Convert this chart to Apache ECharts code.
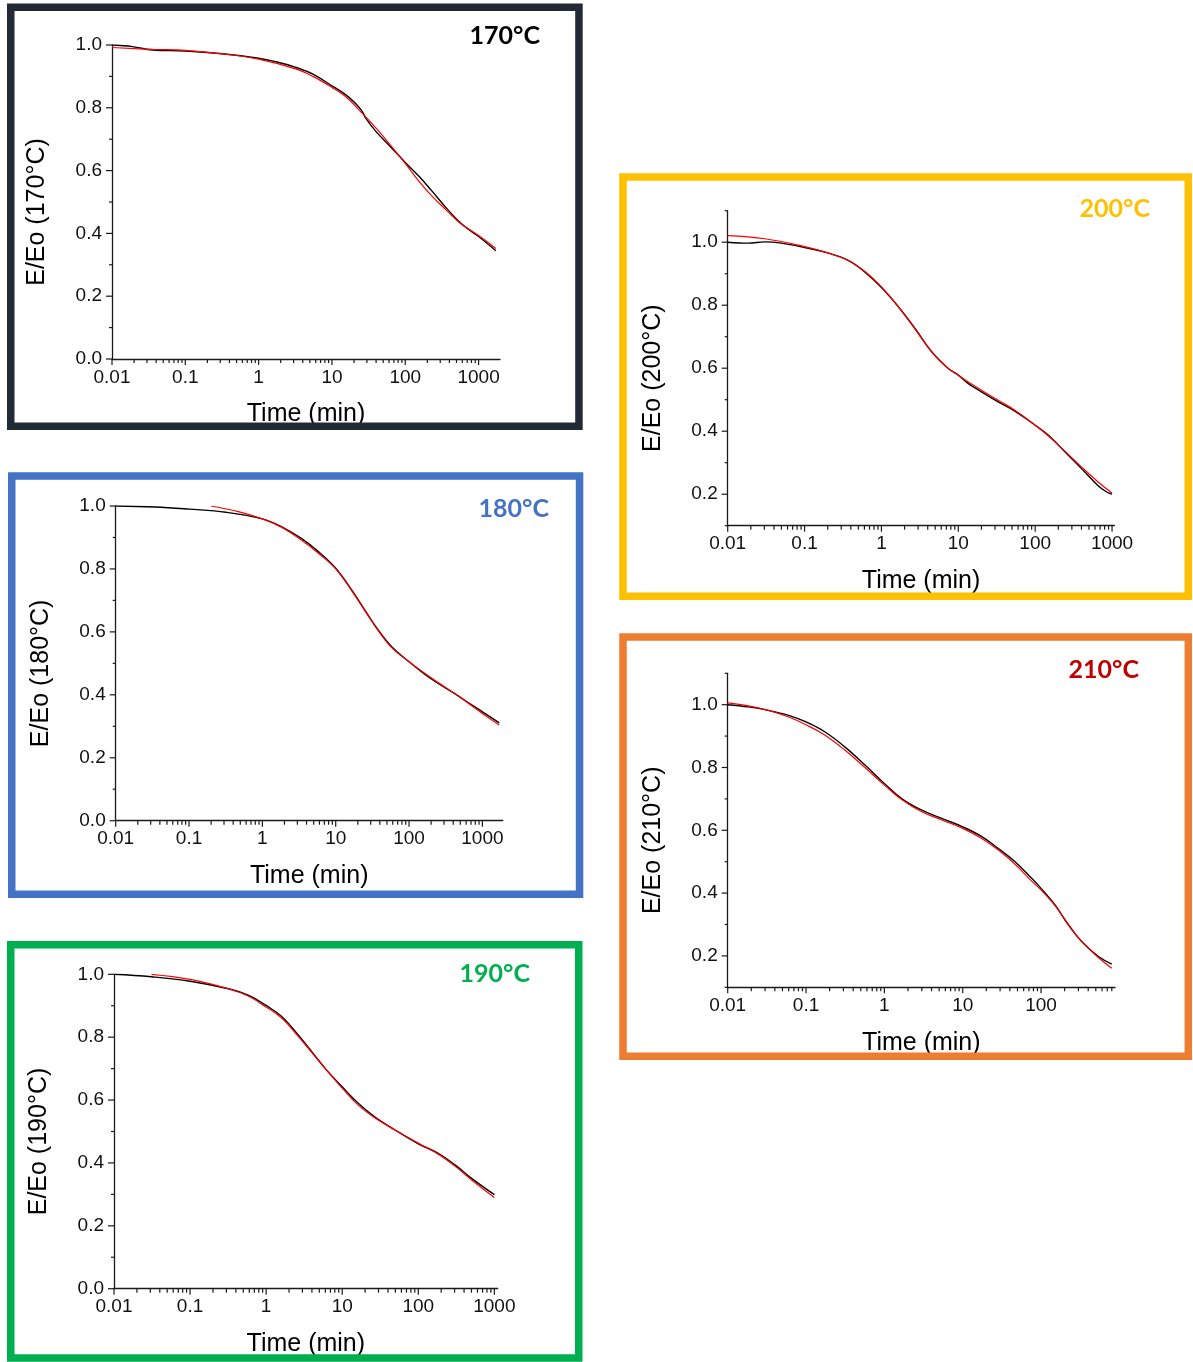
<!DOCTYPE html>
<html><head><meta charset="utf-8">
<script src="https://cdn.jsdelivr.net/npm/echarts@6/dist/echarts.min.js"></script>
<style>html,body{margin:0;padding:0;background:#fff}#c{width:1193px;height:1362px}</style>
</head><body><div id="c"></div>
<script>
// ---------- tick values ----------
const yMajor01 = [0, 0.2, 0.4, 0.6, 0.8, 1.0];
const yMinor01 = [0.1, 0.3, 0.5, 0.7, 0.9];
const yMajorHigh = [0.2, 0.4, 0.6, 0.8, 1.0];
const yMinorHigh = [0.1, 0.3, 0.5, 0.7, 0.9, 1.1];

const panelTitles = ['170°C', '180°C', '190°C', '200°C', '210°C'];
const yNames = ['E/Eo (170°C)', 'E/Eo (180°C)', 'E/Eo (190°C)', 'E/Eo (200°C)', 'E/Eo (210°C)'];
const xName = 'Time (min)';

// ---------- data: 170°C ----------
const t170 = [0.01, 0.019, 0.036, 0.1, 0.32, 1, 1.7, 3.2, 5.5, 10, 15.5, 21, 26, 29, 40, 60, 100, 155, 235, 360, 545, 750, 1000, 1720];
const e170 = [1.0, 0.995, 0.984, 0.981, 0.972, 0.958, 0.947, 0.929, 0.907, 0.870, 0.841, 0.814, 0.788, 0.766, 0.724, 0.681, 0.626, 0.581, 0.533, 0.482, 0.437, 0.411, 0.390, 0.345];
const t170fit = [0.01, 0.036, 0.1, 0.32, 1, 3.2, 5.5, 10, 15.5, 26, 40, 60, 100, 155, 235, 360, 545, 1000, 1720];
const e170fit = [0.992, 0.986, 0.983, 0.972, 0.955, 0.924, 0.900, 0.865, 0.835, 0.782, 0.735, 0.687, 0.623, 0.565, 0.517, 0.475, 0.435, 0.393, 0.352];

// ---------- data: 180°C ----------
const t180 = [0.01, 0.034, 0.1, 0.32, 1, 1.84, 3.4, 5.8, 10, 16.5, 25, 38, 58, 100, 165, 250, 425, 715, 1000, 1700];
const e180 = [1.0, 0.997, 0.990, 0.980, 0.959, 0.934, 0.897, 0.855, 0.802, 0.733, 0.669, 0.606, 0.553, 0.505, 0.465, 0.436, 0.403, 0.368, 0.346, 0.311];
const t180fit = [0.2, 0.47, 1, 1.84, 3.4, 5.8, 10, 16.5, 25, 38, 58, 100, 165, 250, 425, 715, 1000, 1700];
const e180fit = [1.0, 0.982, 0.959, 0.932, 0.892, 0.850, 0.800, 0.731, 0.667, 0.604, 0.550, 0.505, 0.468, 0.439, 0.403, 0.365, 0.341, 0.304];

// ---------- data: 190°C ----------
const t190 = [0.01, 0.031, 0.1, 0.32, 0.59, 1, 1.6, 2.66, 4, 6, 10, 16.4, 27, 50, 100, 185, 307, 508, 1000];
const e190 = [1.0, 0.992, 0.978, 0.954, 0.933, 0.901, 0.866, 0.806, 0.753, 0.700, 0.642, 0.589, 0.546, 0.504, 0.461, 0.430, 0.393, 0.350, 0.299];
const t190fit = [0.031, 0.1, 0.32, 0.59, 1, 1.6, 2.66, 4, 6, 10, 16.4, 27, 50, 100, 185, 307, 508, 1000];
const e190fit = [1.0, 0.984, 0.954, 0.930, 0.896, 0.861, 0.802, 0.751, 0.700, 0.638, 0.583, 0.543, 0.504, 0.463, 0.427, 0.389, 0.345, 0.290];

// ---------- data: 200°C ----------
const t200 = [0.01, 0.0186, 0.0306, 0.05, 0.1, 0.2, 0.37, 0.61, 1, 1.66, 2.74, 4.5, 7.4, 10, 13.5, 20, 33, 55, 100, 149, 245, 403, 664, 850, 1000];
const e200 = [1.0, 0.997, 1.001, 0.997, 0.983, 0.966, 0.942, 0.905, 0.856, 0.795, 0.726, 0.652, 0.599, 0.578, 0.551, 0.525, 0.493, 0.463, 0.419, 0.387, 0.334, 0.281, 0.226, 0.207, 0.200];
const t200fit = [0.01, 0.0306, 0.1, 0.2, 0.37, 0.61, 1, 1.66, 2.74, 4.5, 7.4, 10, 13.5, 20, 33, 55, 100, 149, 245, 403, 664, 1000];
const e200fit = [1.021, 1.011, 0.986, 0.966, 0.942, 0.907, 0.858, 0.795, 0.724, 0.652, 0.599, 0.578, 0.556, 0.530, 0.498, 0.466, 0.419, 0.385, 0.336, 0.286, 0.238, 0.204];

// ---------- data: 210°C ----------
const t210 = [0.01, 0.0184, 0.033, 0.06, 0.1, 0.175, 0.315, 0.57, 1, 1.66, 3, 5.4, 10, 17.5, 28.5, 46.6, 76, 100, 151, 223, 330, 540, 800];
const e210 = [1.0, 0.993, 0.982, 0.966, 0.945, 0.913, 0.865, 0.807, 0.749, 0.701, 0.664, 0.638, 0.611, 0.580, 0.542, 0.500, 0.447, 0.415, 0.362, 0.299, 0.246, 0.198, 0.174];
const t210fit = t210;
const e210fit = [1.006, 0.996, 0.982, 0.961, 0.936, 0.903, 0.855, 0.799, 0.744, 0.698, 0.659, 0.633, 0.606, 0.574, 0.537, 0.492, 0.438, 0.410, 0.360, 0.301, 0.246, 0.195, 0.161];

// ---------- layout ----------
const panels = [
  {grid:{left:112, top:45, width:388, height:314}, xMax:1960, yMin:0, yMax:1, yMaj:yMajor01, yMin_:yMinor01, t:t170, e:e170, tf:t170fit, ef:e170fit,
   border:{x:10.75, y:7.25, w:568.2, h:419, c:'#222A35'}, title:{x:540, y:36, c:'#000000'}},
  {grid:{left:115.7, top:506, width:387, height:314.7}, xMax:1893, yMin:0, yMax:1, yMaj:yMajor01, yMin_:yMinor01, t:t180, e:e180, tf:t180fit, ef:e180fit,
   border:{x:11.75, y:476.05, w:567.8, h:418.2, c:'#4472C4'}, title:{x:549, y:509, c:'#4472C4'}},
  {grid:{left:114, top:974.3, width:383.7, height:314.4}, xMax:1107, yMin:0, yMax:1, yMaj:yMajor01, yMin_:yMinor01, t:t190, e:e190, tf:t190fit, ef:e190fit,
   border:{x:10.75, y:944.75, w:568, h:413.25, c:'#00B050'}, title:{x:530, y:974, c:'#00B050'}},
  {grid:{left:727.7, top:210.7, width:386.7, height:315}, xMax:1073, yMin:0.1, yMax:1.1, yMaj:yMajorHigh, yMin_:yMinorHigh, t:t200, e:e200, tf:t200fit, ef:e200fit,
   border:{x:623, y:177, w:565.3, h:419.3, c:'#FFC000'}, title:{x:1150, y:209, c:'#FFC000'}},
  {grid:{left:727.7, top:673.3, width:387.3, height:314}, xMax:879, yMin:0.1, yMax:1.1, yMaj:yMajorHigh, yMin_:yMinorHigh, t:t210, e:e210, tf:t210fit, ef:e210fit,
   border:{x:623, y:637, w:565.3, h:419.3, c:'#ED7D31'}, title:{x:1139, y:670, c:'#C00000'}}
];

const AX = '#1a1a1a';
const FONT = '"Liberation Sans", Arial, sans-serif';

function zip(a, b) { return a.map((v, i) => [v, b[i]]); }
function xTickData(min, max, yBase) {
  const out = [];
  for (let k = Math.floor(Math.log10(min)); k <= Math.ceil(Math.log10(max)); k++) {
    for (let m = 1; m <= 9; m++) {
      const v = m * Math.pow(10, k);
      if (v >= min * 0.999 && v <= max) out.push([v, yBase, m === 1 ? 0 : 1]);
    }
  }
  return out;
}
function tickRender(params, api) {
  const kind = api.value(2);
  const p = api.coord([api.value(0), api.value(1)]);
  let x2 = p[0], y2 = p[1];
  if (kind === 0) y2 += 6; else if (kind === 1) y2 += 4;
  else if (kind === 2) x2 -= 6; else x2 -= 3;
  return {type: 'line', silent: true, shape: {x1: p[0], y1: p[1], x2: x2, y2: y2},
          style: {stroke: AX, lineWidth: 1.2}};
}
function logLabel(v) {
  const l = Math.log10(v);
  const r = Math.round(l);
  if (Math.abs(l - r) > 1e-6) return '';
  return r < 0 ? Math.pow(10, r).toFixed(-r) : String(Math.round(Math.pow(10, r)));
}

const grids = [], xAxes = [], yAxes = [], series = [], graphics = [];
panels.forEach((p, i) => {
  grids.push(Object.assign({containLabel: false}, p.grid));
  xAxes.push({
    type: 'log', logBase: 10, gridIndex: i, min: 0.01, max: p.xMax,
    name: xName, nameLocation: 'middle', nameGap: 43,
    nameTextStyle: {fontFamily: FONT, fontSize: 25, color: '#000'},
    axisLine: {show: true, onZero: false, lineStyle: {color: AX, width: 1.3}},
    axisTick: {show: false}, minorTick: {show: false}, splitLine: {show: false},
    axisLabel: {show: true, margin: 9, fontFamily: FONT, fontSize: 19, color: '#111',
                showMaxLabel: false, formatter: logLabel}
  });
  yAxes.push({
    type: 'value', gridIndex: i, min: p.yMin, max: p.yMax, interval: (p.yMin === 0 ? 0.2 : 0.1),
    name: yNames[i], nameLocation: 'middle', nameGap: 62,
    nameTextStyle: {fontFamily: FONT, fontSize: 25, color: '#000', padding: [0, 20, 0, 0]},
    axisLine: {show: true, onZero: false, lineStyle: {color: AX, width: 1.3}},
    axisTick: {show: false}, splitLine: {show: false},
    axisLabel: {show: true, margin: 10, fontFamily: FONT, fontSize: 19, color: '#111',
                formatter: function (v) { const n = Math.round(v * 10); return (n % 2 === 0) ? (n / 10).toFixed(1) : ''; }}
  });
  const ticks = xTickData(0.01, p.xMax, p.yMin)
    .concat(p.yMaj.map(v => [0.01, v, 2]))
    .concat(p.yMin_.map(v => [0.01, v, 3]));
  series.push({type: 'custom', xAxisIndex: i, yAxisIndex: i, clip: false, silent: true,
               renderItem: tickRender, data: ticks, z: 3});
  series.push({type: 'line', name: 'measured', xAxisIndex: i, yAxisIndex: i, data: zip(p.t, p.e),
               symbol: 'none', smooth: 0.4, lineStyle: {color: '#000000', width: 1.4}, z: 4});
  series.push({type: 'line', name: 'fit', xAxisIndex: i, yAxisIndex: i, data: zip(p.tf, p.ef),
               symbol: 'none', smooth: 0.4, lineStyle: {color: '#FF0000', width: 1.2}, z: 5});
  graphics.push({type: 'rect', shape: {x: p.border.x, y: p.border.y, width: p.border.w, height: p.border.h},
                 style: {fill: 'none', stroke: p.border.c, lineWidth: 7.5}, z: 1});
  graphics.push({type: 'text', x: p.title.x, y: p.title.y,
                 style: {text: panelTitles[i], fill: p.title.c, align: 'right', verticalAlign: 'middle',
                         font: 'bold 25px Lato, "Open Sans", sans-serif'}, z: 10});
});

const chart = echarts.init(document.getElementById('c'), null, {renderer: 'canvas'});
chart.setOption({
  animation: false,
  backgroundColor: '#ffffff',
  grid: grids, xAxis: xAxes, yAxis: yAxes, series: series,
  graphic: graphics
});
</script></body></html>
